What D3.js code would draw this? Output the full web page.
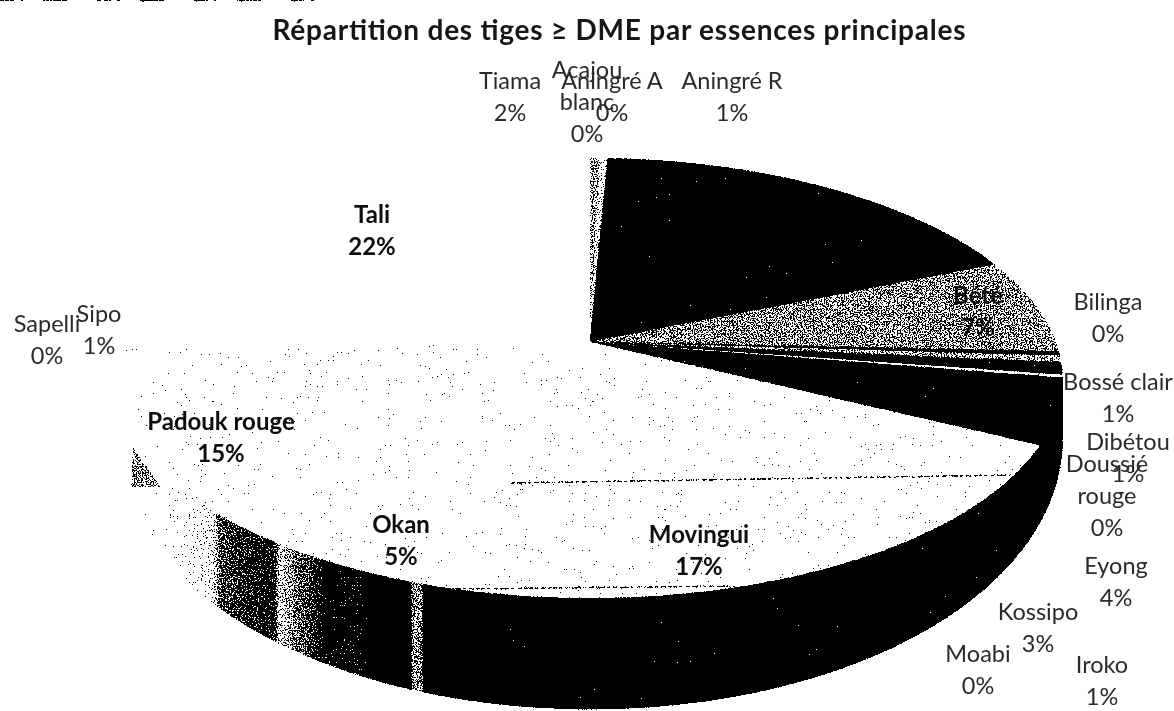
<!DOCTYPE html>
<html>
<head>
<meta charset="utf-8">
<script src="https://cdn.jsdelivr.net/npm/d3@7"></script>
<style>
  html, body { margin: 0; background: #fff; }
  svg { display: block; }
  text { font-family: Lato, "Open Sans", sans-serif; }
</style>
</head>
<body>
<svg width="1174" height="711"></svg>
<script>
// Data. The printed % and the drawn wedge do not agree in the source
var categories = ["Acajou blanc", "Aningré A", "Aningré R", "Bété", "Bilinga", "Bossé clair", "Dibétou", "Doussié rouge", "Eyong", "Iroko", "Kossipo", "Moabi", "Movingui", "Okan", "Padouk rouge", "Sapelli", "Sipo", "Tali", "Tiama"];
var printedPct = [0, 0, 1, 7, 0, 1, 1, 0, 4, 1, 3, 0, 17, 5, 15, 0, 1, 22, 2];
var wedgePct = [0.4, 0.3, 18, 7, 0.3, 0.5, 0.9, 0.2, 2.4, 0.6, 1.6, 0.2, 17, 5.6, 19.5, 0.2, 0.9, 22.4, 2];
var wedgeTone = [0.5, 0.7, 0, 0.5, 0, 0.55, 0, 0.85, 0, 0, 0, 0, 0.9, 0.9, 0.9, 1, 1, 1, 1];

// label layout, same order as categories
var labelLines = [["Acajou", "blanc"], ["Aningré A"], ["Aningré R"], ["Bété"], ["Bilinga"], ["Bossé clair"], ["Dibétou"], ["Doussié", "rouge"], ["Eyong"], ["Iroko"], ["Kossipo"], ["Moabi"], ["Movingui"], ["Okan"], ["Padouk rouge"], ["Sapelli"], ["Sipo"], ["Tali"], ["Tiama"]];
var labelAt = [[587, 78], [612, 89], [732, 89], [978, 304], [1108, 310], [1118, 390], [1128, 450], [1107, 472], [1116, 574], [1102, 673], [1038, 620], [978, 662], [699, 543], [401, 533], [221, 430], [47, 332], [99, 322], [372, 223], [510, 89]];
var labelBold = ["Bété", "Movingui", "Okan", "Padouk rouge", "Tali"];

var wallStopX = [125, 177, 213, 220, 273, 280, 287, 313, 325, 360, 364, 410, 412, 422, 424];
var wallStopTone = [1, 0.85, 0.72, 0.4, 0.25, 0.65, 0.55, 0.35, 0.15, 0.2, 0, 0, 0.5, 0.5, 0];

var svg = d3.select("svg");
var defs = svg.append("defs");

// grain so the flat tones look like the photocopy
var grain = defs.append("filter").attr("id", "grain")
  .attr("filterUnits", "userSpaceOnUse")
  .attr("x", 0).attr("y", 0).attr("width", 1174).attr("height", 711)
  .attr("color-interpolation-filters", "sRGB");
grain.append("feTurbulence").attr("type", "fractalNoise").attr("baseFrequency", 0.75).attr("numOctaves", 2).attr("seed", 4).attr("result", "n");
grain.append("feColorMatrix").attr("in", "n").attr("type", "matrix")
  .attr("values", "1.4 0 0 0 -0.2  1.4 0 0 0 -0.2  1.4 0 0 0 -0.2  0 0 0 0 1").attr("result", "g");
grain.append("feComposite").attr("in", "SourceGraphic").attr("in2", "g").attr("operator", "arithmetic")
  .attr("k1", 0).attr("k2", 1).attr("k3", 1).attr("k4", -0.5).attr("result", "sum");
var ct = grain.append("feComponentTransfer").attr("in", "sum").attr("result", "hard");
["feFuncR", "feFuncG", "feFuncB"].forEach(function (f) {
  ct.append(f).attr("type", "discrete").attr("tableValues", "0 1");
});
grain.append("feGaussianBlur").attr("in", "hard").attr("stdDeviation", 0.5);

var soft = defs.append("filter").attr("id", "soft");
soft.append("feGaussianBlur").attr("stdDeviation", 0.45);

var xStop = d3.scaleLinear().domain([wallStopX[0], wallStopX[wallStopX.length - 1]]).range([0, 1]);
var toneColor = function (t) { return d3.rgb(255 * t, 255 * t, 255 * t).formatHex(); };
defs.append("linearGradient").attr("id", "wallShade")
  .attr("gradientUnits", "userSpaceOnUse")
  .attr("x1", wallStopX[0]).attr("x2", wallStopX[wallStopX.length - 1]).attr("y1", 0).attr("y2", 0)
  .selectAll("stop").data(wallStopX).enter().append("stop")
  .attr("offset", function (d) { return xStop(d); })
  .attr("stop-color", function (d, i) { return toneColor(wallStopTone[i]); });

// Perspective disc: apex of the pie sits above the middle of the ellipse
var apex = [590, 342];
var rx = 466, ry = 214, persp = 0.1636;
var wallBase = 50, wallGrow = 61;

function project(angle, r, drop) {
  var u = Math.sin(angle) * r, f = -Math.cos(angle) * r;
  var w = 1 - persp * f;
  var y = apex[1] + ry * f / w;
  if (drop) y += wallBase + wallGrow * f;
  return [apex[0] + rx * u / w, y];
}

var pie = d3.pie().sort(null).value(function (d) { return d; });
var arcs = pie(wedgePct);
var line = d3.line();

function rimPoints(a0, a1, drop) {
  var n = Math.max(2, Math.ceil((a1 - a0) / 0.01));
  return d3.range(n + 1).map(function (i) {
    return project(a0 + (a1 - a0) * i / n, 1, drop);
  });
}

var paper = svg.append("g").attr("filter", "url(#grain)");
paper.append("rect").attr("width", 1174).attr("height", 711).attr("fill", "#fff");

// front wall, only the part of the rim turned to the viewer
var wallFrom = Math.PI / 2 + Math.asin(persp);
var wallTo = 1.5 * Math.PI - Math.asin(persp);
var walls = arcs.filter(function (d) { return d.endAngle > wallFrom && d.startAngle < wallTo; });

paper.append("g")
  .selectAll("path").data(walls).enter().append("path")
  .attr("d", function (d) {
    var a0 = Math.max(d.startAngle, wallFrom), a1 = Math.min(d.endAngle, wallTo);
    var top = rimPoints(a0, a1, false), bottom = rimPoints(a0, a1, true).reverse();
    return line(top.concat(bottom)) + "Z";
  })
  .attr("fill", "url(#wallShade)")
  .attr("stroke", "url(#wallShade)");

// dark smudge on the far left of the wall
paper.append("path")
  .attr("d", line([[133, 447], [131, 487], [161, 487]]) + "Z")
  .attr("fill", toneColor(0.5));

// top face
paper.append("g")
  .selectAll("path").data(arcs).enter().append("path")
  .attr("d", function (d) {
    return line([apex].concat(rimPoints(d.startAngle, d.endAngle, false))) + "Z";
  })
  .attr("fill", function (d, i) { return toneColor(wedgeTone[i]); })
  .attr("stroke", function (d, i) { return toneColor(wedgeTone[i]); })
  .attr("stroke-width", 0.4);

// copier streaks across Movingui, and the cut off line of text at the page edge
var streaks = paper.append("g").attr("fill", "none").attr("stroke", toneColor(0.3)).attr("stroke-dasharray", "5 2 9 2 3 3");
streaks.append("path").attr("d", line([[510, 483], [1012, 475]])).attr("stroke-width", 1.6);
streaks.append("path").attr("d", line([[445, 589], [735, 586]])).attr("stroke-width", 1.6);
streaks.append("path").attr("d", line([[0, 0], [325, 0]])).attr("stroke-width", 2.5).attr("stroke-dasharray", "14 6 3 20 24 30");

// title
var texts = svg.append("g").attr("filter", "url(#soft)");
texts.append("text")
  .attr("x", 619).attr("y", 40)
  .attr("text-anchor", "middle")
  .attr("font-size", 28).attr("font-weight", 700).attr("fill", "#141414")
  .attr("textLength", 693).attr("lengthAdjust", "spacing")
  .text("Répartition des tiges ≥ DME par essences principales");

// labels
categories.forEach(function (name, i) {
  var bold = labelBold.indexOf(name) >= 0;
  var lines = labelLines[i].concat(printedPct[i] + "%");
  var t = texts.append("text")
    .attr("x", labelAt[i][0]).attr("y", labelAt[i][1])
    .attr("text-anchor", "middle")
    .attr("font-size", bold ? 24 : 23.5)
    .attr("font-weight", bold ? 700 : 400)
    .attr("fill", bold ? "#0c0c0c" : "#2b2b2b");
  lines.forEach(function (s, j) {
    t.append("tspan").attr("x", labelAt[i][0]).attr("dy", j ? 32 : 0).text(s);
  });
});
</script>
</body>
</html>
